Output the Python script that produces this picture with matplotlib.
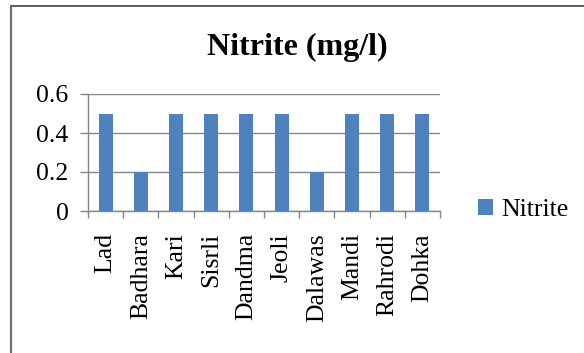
import numpy as np
import matplotlib.pyplot as plt
from matplotlib.lines import Line2D
from matplotlib.patches import Patch

sites = ["Lad", "Badhara", "Kari", "Sisrli", "Dandma", "Jeoli",
         "Dalawas", "Mandi", "Rahrodi", "Dohka"]
nitrite = [0.5, 0.2, 0.5, 0.5, 0.5, 0.5, 0.2, 0.5, 0.5, 0.5]
yticks = [0, 0.2, 0.4, 0.6]
ytick_labels = ["0", "0.2", "0.4", "0.6"]

BAR_COLOR = "#4F81BD"
GRID_COLOR = "#868686"

plt.rcParams["font.family"] = ["Liberation Serif", "DejaVu Serif"]

fig = plt.figure(figsize=(5.84, 3.53), dpi=100)
ax = fig.add_axes([88 / 584, 1 - 211 / 353, 352 / 584, 117 / 353])

x = np.arange(len(sites))
ax.bar(x, nitrite, width=0.4, color=BAR_COLOR, zorder=3)

ax.set_xlim(-0.5, len(sites) - 0.5)
ax.set_ylim(0, 0.6)
ax.set_yticks(yticks)
ax.set_yticklabels(ytick_labels, fontsize=18.5)
ax.yaxis.grid(True, color=GRID_COLOR, linewidth=1.0, zorder=0)
ax.tick_params(axis="y", length=6, width=1, color=GRID_COLOR, pad=8)

ax.set_xticks(x)
ax.set_xticklabels(sites, rotation=90, fontsize=18.5, va="top")
ax.tick_params(axis="x", which="major", length=0, pad=16)
ax.set_xticks(np.arange(-0.5, len(sites)), minor=True)
ax.tick_params(axis="x", which="minor", length=5, width=1, color=GRID_COLOR)

for side in ["top", "right"]:
    ax.spines[side].set_visible(False)
for side in ["left", "bottom"]:
    ax.spines[side].set_color(GRID_COLOR)
    ax.spines[side].set_linewidth(1.0)

fig.text(297 / 584, 1 - 47 / 353, "Nitrite (mg/l)", fontsize=23,
         fontweight="bold", ha="center", va="center")

handles = [Patch(facecolor=BAR_COLOR, edgecolor="none", label="Nitrite")]
fig.legend(handles=handles, loc="center left",
           bbox_to_anchor=(478 / 584, 1 - 210 / 353),
           bbox_transform=fig.transFigure, frameon=False, fontsize=18.5,
           handlelength=0.6, handleheight=0.6, handletextpad=0.3,
           borderpad=0, borderaxespad=0)

# outer chart frame (only top and left edges visible)
fig.add_artist(Line2D([11 / 584, 1], [1 - 5.5 / 353, 1 - 5.5 / 353],
                      transform=fig.transFigure, color="#404040", linewidth=1.2))
fig.add_artist(Line2D([11 / 584, 11 / 584], [0, 1 - 5.5 / 353],
                      transform=fig.transFigure, color="#707070", linewidth=1.6))

fig.savefig("out.png", dpi=100)
